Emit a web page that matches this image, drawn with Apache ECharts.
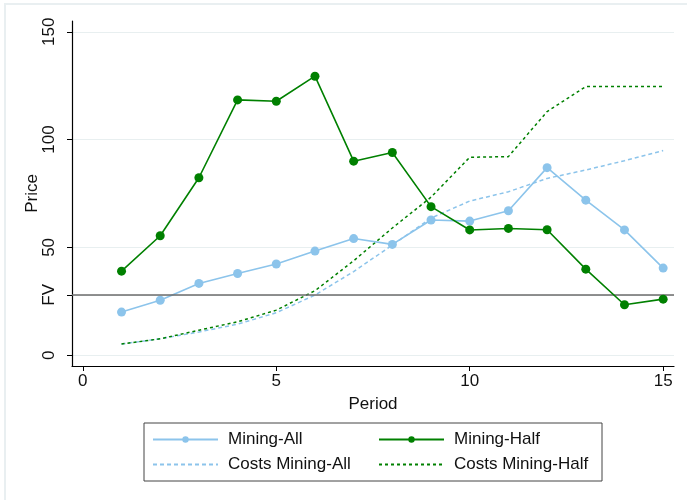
<!DOCTYPE html>
<html>
<head>
<meta charset="utf-8">
<script src="https://cdn.jsdelivr.net/npm/echarts@6/dist/echarts.min.js"></script>
<style>
  html, body { margin: 0; padding: 0; background: #fff; }
  #chart { width: 687px; height: 500px; }
</style>
</head>
<body>
<div id="chart"></div>
<script>
// Price paths per period for the two mining treatments, with cost curves
const periods = [1, 2, 3, 4, 5, 6, 7, 8, 9, 10, 11, 12, 13, 14, 15];
const miningAll = [20.0, 25.5, 33.3, 37.9, 42.3, 48.3, 54.1, 51.4, 62.7, 62.2, 67.0, 87.0, 71.9, 58.1, 40.4];
const miningHalf = [39.0, 55.4, 82.3, 118.4, 117.8, 129.4, 90.0, 94.0, 68.9, 58.1, 58.8, 58.2, 39.9, 23.4, 26.0];
const costsAll = [5.2, 7.6, 10.8, 14.4, 19.7, 27.9, 38.8, 51.1, 63.6, 71.5, 75.8, 82.0, 85.9, 90.2, 94.9];
const costsHalf = [5.2, 7.6, 11.6, 15.5, 20.9, 29.9, 43.8, 59.0, 73.3, 91.8, 92.1, 113.0, 124.6, 124.6, 124.6];
const fundamentalValue = 28;
const yTicks = [0, 50, 100, 150];
const xTicks = [0, 5, 10, 15];

const blue = '#8cc4eb';
const green = '#008000';
const font = 'Liberation Sans, Arial, sans-serif';

const pairs = vals => periods.map((p, i) => [p, vals[i]]);

const chart = echarts.init(document.getElementById('chart'), null, { renderer: 'canvas' });

chart.setOption({
  animation: false,
  backgroundColor: '#ffffff',
  textStyle: { fontFamily: font },
  graphic: [{
    type: 'rect',
    shape: { x: 5, y: 4, width: 720, height: 520 },
    style: { fill: 'none', stroke: '#e9eff1', lineWidth: 2 },
    silent: true,
    z: -10
  }],
  grid: { left: 72, right: 13, top: 21, bottom: 134, containLabel: false },
  xAxis: {
    type: 'value',
    min: -0.28,
    max: 15.28,
    name: 'Period',
    nameLocation: 'middle',
    nameGap: 30,
    nameMoveOverlap: false,
    nameTextStyle: { fontSize: 17, color: '#111', fontFamily: font },
    axisLine: { show: true, onZero: false, lineStyle: { color: '#000', width: 1.2 } },
    axisTick: { show: true, length: 5, customValues: xTicks, lineStyle: { color: '#000' } },
    axisLabel: { customValues: xTicks, fontSize: 17, color: '#111', margin: 7, fontFamily: font },
    splitLine: { show: false }
  },
  yAxis: {
    type: 'value',
    min: -5,
    max: 155,
    name: 'Price',
    nameLocation: 'middle',
    nameGap: 31,
    nameMoveOverlap: false,
    nameRotate: 90,
    nameTextStyle: { fontSize: 17, color: '#111', fontFamily: font },
    axisLine: { show: true, onZero: false, lineStyle: { color: '#000', width: 1.2 } },
    axisTick: { show: true, length: 5, customValues: yTicks.concat([fundamentalValue]), lineStyle: { color: '#000' } },
    axisLabel: {
      customValues: yTicks.concat([fundamentalValue]),
      rotate: 90,
      fontSize: 17,
      color: '#111',
      margin: 14,
      fontFamily: font,
      formatter: v => (v === fundamentalValue ? 'FV' : String(v))
    },
    splitLine: { show: true, lineStyle: { color: '#e8eff0', width: 1 } }
  },
  legend: {
    left: 144,
    top: 423,
    width: 460,
    orient: 'horizontal',
    padding: [8, 6, 8, 8],
    itemGap: 8,
    itemWidth: 65,
    itemHeight: 8,
    borderColor: '#444',
    borderWidth: 1,
    formatter: name => '{t|' + name + '}',
    textStyle: {
      fontSize: 17,
      color: '#111',
      fontFamily: font,
      rich: { t: { fontSize: 17, color: '#111', fontFamily: font, width: 142, lineHeight: 16, padding: [0, 0, 0, 5] } }
    },
    data: [
      { name: 'Mining-All' },
      { name: 'Mining-Half' },
      { name: 'Costs Mining-All', itemStyle: { opacity: 0 } },
      { name: 'Costs Mining-Half', itemStyle: { opacity: 0 } }
    ]
  },
  series: [
    {
      name: 'Mining-All',
      type: 'line',
      data: pairs(miningAll),
      symbol: 'circle',
      symbolSize: 9,
      itemStyle: { color: blue },
      lineStyle: { color: blue, width: 1.6 },
      z: 4,
      markLine: {
        silent: true,
        symbol: 'none',
        label: { show: false },
        lineStyle: { color: '#6b6b6b', width: 1.5, type: 'solid' },
        data: [{ yAxis: fundamentalValue }]
      }
    },
    {
      name: 'Mining-Half',
      type: 'line',
      data: pairs(miningHalf),
      symbol: 'circle',
      symbolSize: 9,
      itemStyle: { color: green },
      lineStyle: { color: green, width: 1.6 },
      z: 5
    },
    {
      name: 'Costs Mining-All',
      type: 'line',
      data: pairs(costsAll),
      symbol: 'none',
      itemStyle: { color: blue },
      lineStyle: { color: blue, width: 1.5, type: [4, 3] },
      z: 2
    },
    {
      name: 'Costs Mining-Half',
      type: 'line',
      data: pairs(costsHalf),
      symbol: 'none',
      itemStyle: { color: green },
      lineStyle: { color: green, width: 1.5, type: [3, 3] },
      z: 3
    }
  ]
});
</script>
</body>
</html>
